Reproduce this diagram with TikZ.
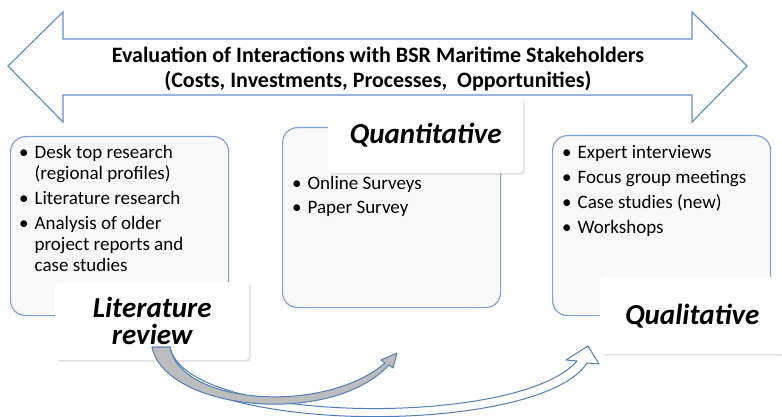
\documentclass[tikz,border=0pt]{standalone}
\usepackage{fontspec}
\setmainfont{Carlito}
\usetikzlibrary{positioning,shadows}

\definecolor{boxblue}{HTML}{7BA3D6}
\definecolor{arrowblue}{HTML}{6290CB}
\definecolor{curveblue}{HTML}{4F7FBA}
\definecolor{boxgray}{HTML}{F9F9F9}
\definecolor{curvegray}{HTML}{BDBDBD}

\newcommand{\titlefont}{\fontsize{22}{25}\selectfont\bfseries}
\newcommand{\bodyfont}{\fontsize{19}{21}\selectfont}
\newcommand{\tagfont}{\fontsize{29}{27}\selectfont\bfseries\itshape}

\begin{document}
\begin{tikzpicture}[x=1pt,y=-1pt,
    bigarrow/.style ={draw=arrowblue, line width=1.2pt, fill=white, line join=miter},
    method/.style ={draw=boxblue, line width=1.2pt, fill=boxgray, rounded corners=15pt,
                    anchor=north west, inner sep=0pt},
    tag/.style ={fill=white, rounded corners=4pt, anchor=north west, align=center,
                 font=\tagfont, inner sep=0pt,
                 drop shadow={shadow xshift=1.5pt, shadow yshift=-1.5pt, opacity=0.25}},
    list/.style ={anchor=north west, inner sep=0pt, font=\bodyfont}]
   \useasboundingbox (0,0) rectangle (782,417);

   % two-headed arrow across the top
   \draw[bigarrow] (8,66) -- (63,12) -- (63,39) -- (692,39) -- (692,12) -- (747,66)
                   -- (692,122) -- (692,95) -- (63,95) -- (63,122) -- cycle;
   \node[font=\titlefont, align=center] (title) at (378,69)
      {Evaluation of Interactions with BSR Maritime Stakeholders\\
       (Costs, Investments, Processes,\ \ Opportunities)};

   % the three method boxes
   \node[method, minimum width=218pt, minimum height=179pt] (litbox) at (10,136) {};
   \node[method, minimum width=218pt, minimum height=180pt] (quantbox) at (282,127) {};
   \node[method, minimum width=218pt, minimum height=180pt] (qualbox) at (552,135) {};

   \node[list] (littext) at ([shift={(9,8)}]litbox.north west) {%
      \begin{tabular}{@{}l@{\hspace{6pt}}l@{}}
      \textbullet & Desk top research\\
                  & (regional profiles)\\[4pt]
      \textbullet & Literature research\\[4pt]
      \textbullet & Analysis of older\\
                  & project reports and\\
                  & case studies
      \end{tabular}};
   \node[list] (quanttext) at ([shift={(10,48)}]quantbox.north west) {%
      \begin{tabular}{@{}l@{\hspace{6pt}}l@{}}
      \textbullet & Online Surveys\\[3pt]
      \textbullet & Paper Survey
      \end{tabular}};
   \node[list] (qualtext) at ([shift={(10,9)}]qualbox.north west) {%
      \begin{tabular}{@{}l@{\hspace{6pt}}l@{}}
      \textbullet & Expert interviews\\[4pt]
      \textbullet & Focus group meetings\\[4pt]
      \textbullet & Case studies (new)\\[4pt]
      \textbullet & Workshops
      \end{tabular}};

   % headings laid over the boxes
   \node[tag, minimum width=194pt, minimum height=78pt] (littag) at (55,282) {Literature\\review};
   \node[tag, minimum width=195pt, minimum height=76pt] (quanttag) at (328,97) {Quantitative};
   \node[tag, minimum width=184pt, minimum height=77pt] (qualtag) at (600,277) {Qualitative};

   % curved arrows out of the literature review
   \filldraw[fill=white, draw=curveblue, line width=1pt, line join=round]
      (152,347) .. controls (175,437) and (540,437) .. (587,363)
      -- (599,364) -- (588,346) -- (566,360) -- (577,361)
      .. controls (520,428) and (185,425) .. (170,347) -- cycle;
   \filldraw[fill=curvegray, draw=curveblue, line width=1pt, line join=round]
      (152,347) .. controls (165,410) and (330,428) .. (389,365)
      -- (393,368) -- (397,353) -- (381,360) -- (385,363)
      .. controls (325,415) and (180,405) .. (170,347) -- cycle;
\end{tikzpicture}
\end{document}
